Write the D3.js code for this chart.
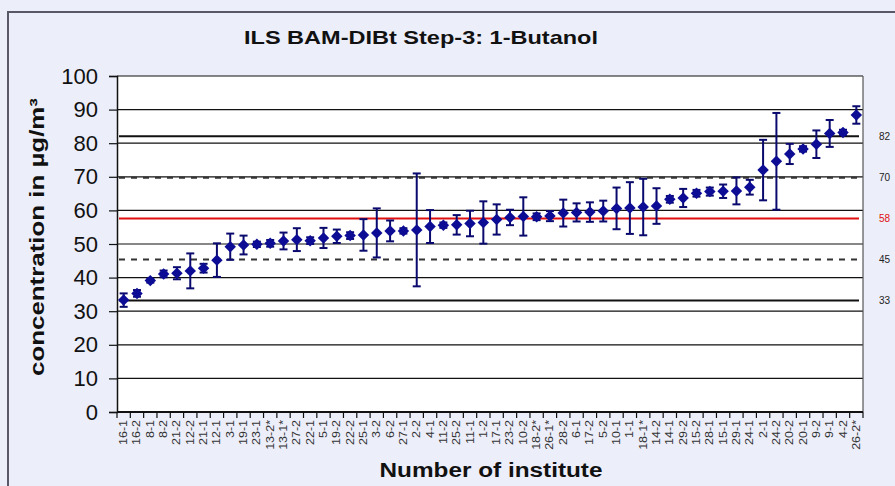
<!DOCTYPE html>
<html>
<head>
<meta charset="utf-8">
<script src="https://cdn.jsdelivr.net/npm/d3@7"></script>
<style>
  html, body { margin: 0; padding: 0; background: #eceef9; }
  svg { display: block; }
  text { font-family: Arial, "Liberation Sans", sans-serif; }
</style>
</head>
<body>
<svg id="chart" width="895" height="486"></svg>
<script>
// Institute codes, ordered by reported mean
const institutes = ["16-1","16-2","8-1","8-2","21-2","12-2","21-1","12-1","3-1","19-1",
  "23-1","13-2*","13-1*","27-2","22-1","5-1","19-2","22-2","25-1","3-2",
  "6-2","27-1","2-2","4-1","11-2","25-2","11-1","1-2","17-1","23-2",
  "10-2","18-2*","26-1*","28-2","6-1","17-2","5-2","10-1","1-1","18-1*",
  "14-2","14-1","29-2","15-2","28-1","15-1","29-1","24-1","2-1","24-2",
  "20-2","20-1","9-2","9-1","4-2","26-2*"];

// Mean concentration per institute (µg/m³)
const means = [33.3,35.3,39.1,41.1,41.3,42.0,42.8,45.2,49.2,49.7,
  49.9,50.2,50.9,51.3,51.0,51.8,52.3,52.5,52.7,53.3,
  53.9,53.9,54.2,55.2,55.6,55.7,56.1,56.4,57.3,57.9,
  58.2,58.1,58.3,59.2,59.4,59.5,59.8,60.6,60.7,61.0,
  61.3,63.3,63.7,65.1,65.6,65.7,65.8,66.9,72.0,74.6,
  76.8,78.3,79.7,82.9,83.2,88.4];

// Half-width of each error bar (µg/m³)
const errors = [2.0,1.0,0.6,1.0,1.8,5.2,1.3,5.0,3.9,2.8,
  0.8,1.0,2.5,3.4,1.0,3.0,2.0,1.0,4.7,7.3,
  3.1,0.8,16.8,4.9,0.8,2.9,3.8,6.3,4.5,2.3,
  5.7,1.0,1.5,4.0,2.7,2.9,3.1,6.2,7.7,8.4,
  5.3,1.0,2.7,1.0,1.2,2.0,4.0,2.2,9.0,14.4,
  3.0,0.8,4.1,4.0,0.8,2.6];

// Consensus value and limit lines
const limitValues = [82.1, 69.7, 57.6, 45.4, 33.2];
const limitKinds  = ["outer", "inner", "mean", "inner", "outer"];

const yTicks = [0,10,20,30,40,50,60,70,80,90,100];

const svg = d3.select("#chart");
const W = 895, H = 486;
const plot = { left: 117, right: 863, top: 76, bottom: 412 };

// outer chart frame
svg.append("rect")
  .attr("x", 8).attr("y", 12)
  .attr("width", W + 10).attr("height", H + 10)
  .attr("fill", "#eceef9")
  .attr("stroke", "#585868").attr("stroke-width", 2);

const x = d3.scaleBand().domain(institutes).range([plot.left, plot.right]).padding(0);
const y = d3.scaleLinear().domain([0, 100]).range([plot.bottom, plot.top]);

// plot area
svg.append("rect")
  .attr("x", plot.left).attr("y", plot.top)
  .attr("width", plot.right - plot.left).attr("height", plot.bottom - plot.top)
  .attr("fill", "#ffffff");

// horizontal gridlines
svg.append("g")
  .selectAll("line")
  .data(yTicks)
  .join("line")
  .attr("x1", plot.left).attr("x2", plot.right)
  .attr("y1", d => y(d)).attr("y2", d => y(d))
  .attr("stroke", "#111").attr("stroke-width", 1.2);

// right border of plot
svg.append("line")
  .attr("x1", plot.right).attr("x2", plot.right)
  .attr("y1", plot.top).attr("y2", plot.bottom)
  .attr("stroke", "#555").attr("stroke-width", 1.2);

// limit lines
const lineStart = x(institutes[0]) + 2;
const lineEnd = x(institutes[institutes.length - 1]) + x.bandwidth() - 4;
const limitStyle = {
  outer: { stroke: "#111", dash: null },
  inner: { stroke: "#333", dash: "6,6" },
  mean:  { stroke: "#e01010", dash: null }
};
svg.append("g")
  .selectAll("line")
  .data(limitValues.map((v, i) => ({ v, kind: limitKinds[i] })))
  .join("line")
  .attr("x1", lineStart).attr("x2", lineEnd)
  .attr("y1", d => y(d.v)).attr("y2", d => y(d.v))
  .attr("stroke", d => limitStyle[d.kind].stroke)
  .attr("stroke-width", 2)
  .attr("stroke-dasharray", d => limitStyle[d.kind].dash);

// limit labels on the right
svg.append("g")
  .selectAll("text")
  .data(limitValues.map((v, i) => ({ v, kind: limitKinds[i] })))
  .join("text")
  .attr("x", 879)
  .attr("y", d => y(d.v))
  .attr("dy", "0.35em")
  .attr("font-size", 10)
  .attr("fill", d => d.kind === "mean" ? "#e01010" : "#222")
  .text(d => d3.format(".0f")(d.v));

// y axis
const yAxis = svg.append("g")
  .attr("transform", `translate(${plot.left},0)`)
  .call(d3.axisLeft(y).tickValues(yTicks).tickSize(8).tickPadding(11).tickFormat(d3.format("d")));
yAxis.select(".domain").attr("stroke", "#111").attr("stroke-width", 1.5);
yAxis.selectAll(".tick line").attr("stroke", "#111").attr("stroke-width", 1.2);
yAxis.selectAll(".tick text")
  .attr("font-size", 22).attr("fill", "#111")
  .attr("font-family", "Arial, 'Liberation Sans', sans-serif");

// x axis: ticks sit between categories
const xAxis = svg.append("g").attr("transform", `translate(0,${plot.bottom})`);
xAxis.append("line")
  .attr("x1", plot.left).attr("x2", plot.right)
  .attr("stroke", "#111").attr("stroke-width", 2);
xAxis.selectAll("line.tick")
  .data(institutes.concat(["__end"]))
  .join("line")
  .attr("class", "tick")
  .attr("x1", (d, i) => plot.left + i * x.step())
  .attr("x2", (d, i) => plot.left + i * x.step())
  .attr("y1", 0).attr("y2", 6)
  .attr("stroke", "#111").attr("stroke-width", 1.2);
xAxis.selectAll("text")
  .data(institutes)
  .join("text")
  .attr("transform", d => `translate(${x(d) + x.bandwidth() / 2 + 3.5},8) rotate(-90) scale(1.25,1)`)
  .attr("text-anchor", "end")
  .attr("font-size", 10)
  .attr("fill", "#333")
  .text(d => d);

// error bars
const bars = svg.append("g")
  .selectAll("g")
  .data(institutes.map((k, i) => ({ k, m: means[i], e: errors[i] })))
  .join("g")
  .attr("transform", d => `translate(${x(d.k) + x.bandwidth() / 2},0)`);
bars.append("line")
  .attr("y1", d => y(d.m - d.e)).attr("y2", d => y(d.m + d.e))
  .attr("stroke", "#0a0a6e").attr("stroke-width", 2);
bars.append("line")
  .attr("x1", -4).attr("x2", 4)
  .attr("y1", d => y(d.m + d.e)).attr("y2", d => y(d.m + d.e))
  .attr("stroke", "#0a0a6e").attr("stroke-width", 2);
bars.append("line")
  .attr("x1", -4).attr("x2", 4)
  .attr("y1", d => y(d.m - d.e)).attr("y2", d => y(d.m - d.e))
  .attr("stroke", "#0a0a6e").attr("stroke-width", 2);

// diamond markers
const diamond = d3.symbol().type(d3.symbolSquare).size(66);
bars.append("path")
  .attr("d", diamond)
  .attr("transform", d => `translate(0,${y(d.m)}) rotate(45)`)
  .attr("fill", "#0c0c94");

// title
svg.append("text")
  .attr("x", 421).attr("y", 44)
  .attr("text-anchor", "middle")
  .attr("font-size", 19).attr("font-weight", "bold")
  .attr("textLength", 354).attr("lengthAdjust", "spacingAndGlyphs")
  .attr("fill", "#111")
  .text("ILS BAM-DIBt Step-3: 1-Butanol");

// axis titles
svg.append("text")
  .attr("transform", "translate(44,237) rotate(-90)")
  .attr("text-anchor", "middle")
  .attr("font-size", 20).attr("font-weight", "bold")
  .attr("textLength", 278).attr("lengthAdjust", "spacingAndGlyphs")
  .attr("fill", "#111")
  .text("concentration in µg/m³");

svg.append("text")
  .attr("x", 491).attr("y", 477)
  .attr("text-anchor", "middle")
  .attr("font-size", 20).attr("font-weight", "bold")
  .attr("textLength", 223).attr("lengthAdjust", "spacingAndGlyphs")
  .attr("fill", "#111")
  .text("Number of institute");
</script>
</body>
</html>
